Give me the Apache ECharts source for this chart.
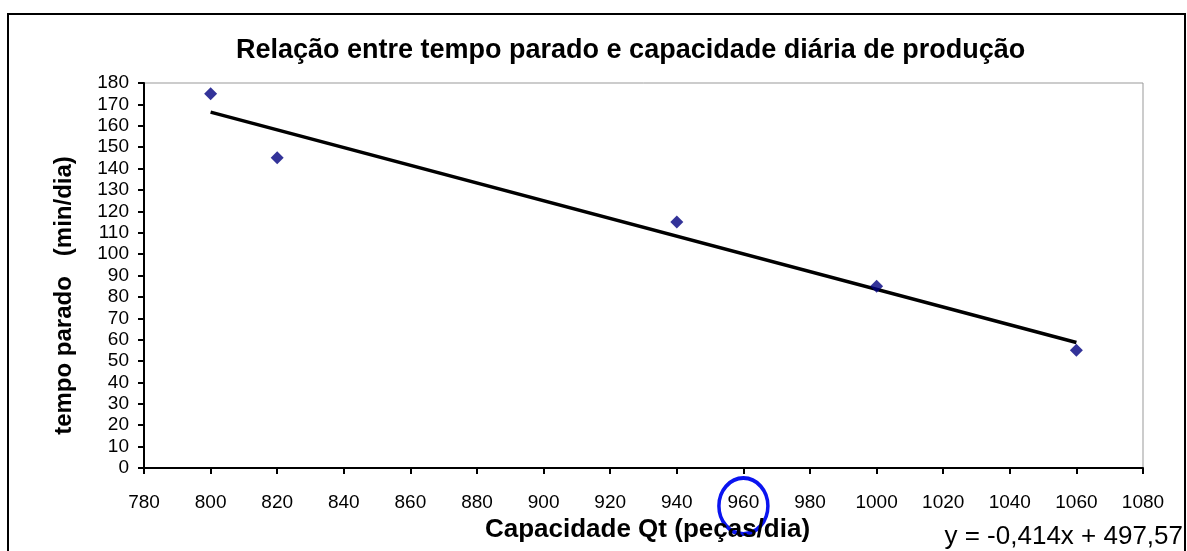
<!DOCTYPE html>
<html>
<head>
<meta charset="utf-8">
<script src="https://cdn.jsdelivr.net/npm/echarts@6/dist/echarts.min.js"></script>
<style>
  html, body { margin: 0; padding: 0; background: #fff; }
  #chart { width: 1187px; height: 551px; }
</style>
</head>
<body>
<div id="chart"></div>
<script>
// observed points: capacity (pieces/day) vs stopped time (min/day)
const capacidade = [800, 820, 940, 1000, 1060];
const tempoParado = [175, 145, 115, 85, 55];
// linear trendline ends
const trendX = [800, 1060];
const trendY = [166.4, 58.7];
const equacao = "y = -0,414x + 497,57";
const marcado = 960;

const font = "Liberation Sans, Arial, sans-serif";

const chart = echarts.init(document.getElementById("chart"));

const options = {
  animation: false,
  title: {
    text: "Relação entre tempo parado e capacidade diária de produção",
    left: 231,
    top: 32,
    textStyle: { fontFamily: font, fontSize: 27, fontWeight: "bold", color: "#000" },
  },
  grid: {
    left: 144,
    right: 44,
    top: 83,
    bottom: 83,
    show: true,
    borderColor: "#999",
    borderWidth: 1,
  },
  xAxis: {
    type: "value",
    min: 780,
    max: 1080,
    interval: 20,
    name: "Capacidade Qt (peças/dia)",
    nameLocation: "middle",
    nameGap: 49,
    nameTextStyle: { fontFamily: font, fontSize: 26, fontWeight: "bold", color: "#000", padding: [0, 0, 0, 8] },
    axisLine: { show: true, lineStyle: { color: "#000", width: 2 } },
    axisTick: { show: true, inside: false, length: 6, lineStyle: { color: "#000", width: 2 } },
    axisLabel: {
      fontFamily: font,
      fontSize: 19,
      color: "#000",
      margin: 25,
      formatter: (v) => String(v),
    },
    splitLine: { show: false },
  },
  yAxis: {
    type: "value",
    min: 0,
    max: 180,
    interval: 10,
    name: "tempo parado   (min/dia)",
    nameLocation: "middle",
    nameGap: 68,
    nameTextStyle: {
      fontFamily: font,
      fontSize: 24,
      fontWeight: "bold",
      color: "#000",
      padding: [0, 40, 0, 0],
    },
    axisLine: { show: true, lineStyle: { color: "#000", width: 2 } },
    axisTick: { show: true, inside: false, length: 6, lineStyle: { color: "#000", width: 2 } },
    axisLabel: { fontFamily: font, fontSize: 19, color: "#000", margin: 15 },
    splitLine: { show: false },
  },
  series: [
    {
      name: "Tendência",
      type: "line",
      data: trendX.map((x, i) => [x, trendY[i]]),
      symbol: "none",
      lineStyle: { color: "#000", width: 3.5 },
      z: 2,
    },
    {
      name: "Observado",
      type: "scatter",
      data: capacidade.map((x, i) => [x, tempoParado[i]]),
      symbol: "diamond",
      symbolSize: 13,
      itemStyle: { color: "#000080" },
      z: 3,
    },
  ],
};

chart.setOption(options);

const cx = chart.convertToPixel({ xAxisIndex: 0 }, marcado);
chart.setOption({
  graphic: [
    {
      type: "rect",
      shape: { x: 8, y: 14, width: 1177, height: 560 },
      style: { fill: null, stroke: "#000", lineWidth: 2 },
      silent: true,
    },
    {
      type: "circle",
      x: cx,
      y: 506,
      scaleY: 1.14,
      shape: { cx: 0, cy: 0, r: 24.5 },
      style: { fill: null, stroke: "#0a14f0", lineWidth: 3.5 },
      silent: true,
    },
    {
      type: "text",
      right: 4,
      top: 524,
      style: { text: equacao, fontFamily: font, fontSize: 26, fill: "#000" },
    },
  ],
});
</script>
</body>
</html>
